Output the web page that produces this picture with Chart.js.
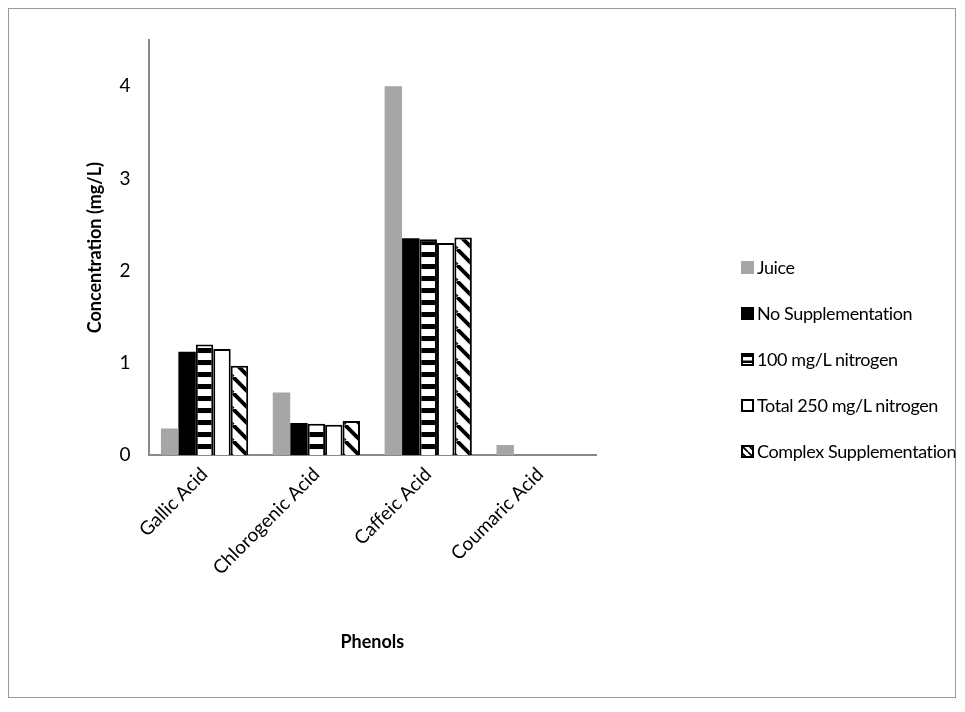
<!DOCTYPE html>
<html><head><meta charset="utf-8">
<script src="https://cdn.jsdelivr.net/npm/chart.js@4"></script>
<style>
body{margin:0;background:#fff}
#box{position:absolute;left:8px;top:8px;width:948px;height:690px;border:1px solid #999;box-sizing:border-box}
#legend{position:absolute;left:741px;top:256px;font:18px Lato,'Open Sans',sans-serif;color:#000;white-space:nowrap;letter-spacing:-0.4px}
#legend div{height:46px;display:flex;align-items:flex-start}
#legend canvas{margin:5px 3px 0 0}
</style></head><body>
<div id="box"><canvas id="myChart"></canvas></div>
<div id="legend"></div>
<script>
const categories = ['Gallic Acid', 'Chlorogenic Acid', 'Caffeic Acid', 'Coumaric Acid'];
const seriesNames = ['Juice', 'No Supplementation', '100 mg/L nitrogen', 'Total 250 mg/L nitrogen', 'Complex Supplementation'];
const juice = [0.29, 0.68, 4.0, 0.11];
const noSupp = [1.12, 0.35, 2.35, 0];
const n100 = [1.20, 0.34, 2.34, 0];
const n250 = [1.15, 0.33, 2.30, 0];
const complexSupp = [0.97, 0.37, 2.36, 0];
const yTicks = [0, 1, 2, 3, 4];

// Fill patterns for the hatched series
function makePattern(kind, s) {
    const c = document.createElement('canvas');
    c.width = s; c.height = s;
    const g = c.getContext('2d');
    g.fillStyle = '#fff';
    g.fillRect(0, 0, s, s);
    g.fillStyle = '#000';
    if (kind === 'horiz') {
        g.fillRect(0, s * 0.25, s, s * 0.42);
    } else {
        g.strokeStyle = '#000';
        g.lineWidth = s / 4;
        g.beginPath();
        for (let o = -s; o <= s; o += s) {
            g.moveTo(o, 0); g.lineTo(o + s, s);
        }
        g.stroke();
    }
    return g.createPattern(c, 'repeat');
}

const fills = ['#a6a6a6', '#000000', makePattern('horiz', 12), '#ffffff', makePattern('diag', 16)];
const borders = ['#a6a6a6', '#000000', '#000000', '#000000', '#000000'];
const values = [juice, noSupp, n100, n250, complexSupp];

const datasets = seriesNames.map((name, i) => ({
    label: name,
    data: values[i],
    backgroundColor: fills[i],
    borderColor: borders[i],
    borderWidth: i < 2 ? 0 : 2
}));

// legend drawn by hand so the patterns show in the swatches
const legendFills = ['#a6a6a6', '#000000', makePattern('horiz', 6), '#ffffff', makePattern('diag', 7)];
seriesNames.forEach((name, i) => {
    const row = document.createElement('div');
    const sw = document.createElement('canvas');
    sw.width = 13; sw.height = 13;
    const g = sw.getContext('2d');
    g.fillStyle = legendFills[i];
    g.fillRect(0, 0, 13, 13);
    if (i >= 2) { g.strokeStyle = '#000'; g.lineWidth = 2; g.strokeRect(1, 1, 11, 11); }
    row.appendChild(sw);
    row.appendChild(document.createTextNode(name));
    document.getElementById('legend').appendChild(row);
});

const font = "Lato, 'Open Sans', sans-serif";

new Chart(document.getElementById('myChart'), {
    type: 'bar',
    data: { labels: categories, datasets },
    options: {
        responsive: true,
        maintainAspectRatio: false,
        animation: false,
        layout: { padding: { top: 31, left: 57, right: 359, bottom: 40 } },
        plugins: { legend: { display: false }, tooltip: { enabled: false } },
        datasets: { bar: { categoryPercentage: 0.78, barPercentage: 1 } },
        scales: {
            x: {
                grid: { display: false, drawTicks: false },
                border: { color: '#888', width: 2 },
                ticks: { color: '#000', font: { size: 19, family: font }, maxRotation: 45, minRotation: 45, padding: 8 },
                title: { display: true, text: 'Phenols', color: '#000', font: { size: 18, weight: 'bold', family: font }, padding: { top: 44 } }
            },
            y: {
                min: 0, max: 4.5,
                afterBuildTicks: ax => { ax.ticks = yTicks.map(v => ({ value: v })); },
                grid: { display: false, drawTicks: true, tickLength: 6, tickColor: '#888' },
                border: { color: '#888', width: 2 },
                ticks: { color: '#000', font: { size: 19, family: font }, padding: 12 },
                title: { display: true, text: 'Concentration (mg/L)', color: '#000', font: { size: 18, weight: 'bold', family: font }, padding: { top: 18, bottom: 2 } }
            }
        }
    }
});
</script>
</body></html>
